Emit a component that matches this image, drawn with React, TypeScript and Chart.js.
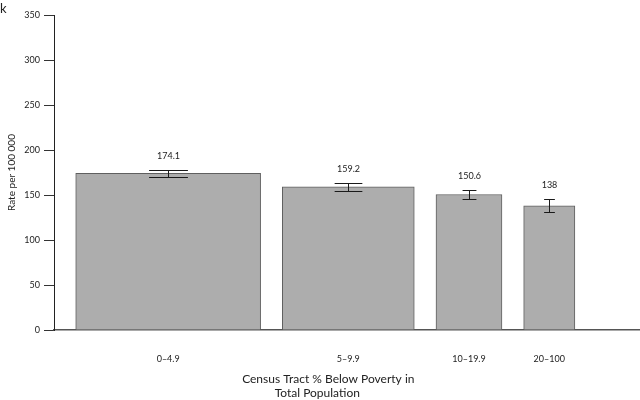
import React, { useEffect, useRef } from 'react';
import { Chart, registerables } from 'chart.js';

Chart.register(...registerables);

// ---- data ----
const categories = ['0–4.9', '5–9.9', '10–19.9', '20–100'];
const rates = [174.1, 159.2, 150.6, 138];
const ciLower = [170.2, 155.0, 145.1, 130.8];
const ciUpper = [178.0, 163.4, 156.1, 145.2];
// share of total population in each poverty category (drives bar width)
const populationShare = [42.6, 30.4, 15.2, 11.8];
const yMax = 350;
const yStep = 50;
const yTitle = 'Rate per 100 000';
const xTitleLines = ['Census Tract % Below Poverty in', 'Total Population'];
const cornerLabel = 'k';

// ---- layout of variable-width bars on a linear axis ----
const GAP = 5;
const X_MAX = 135;
const spans: [number, number][] = [];
let cursor = GAP;
populationShare.forEach((w) => {
  spans.push([cursor, cursor + w]);
  cursor += w + GAP;
});
const centers = spans.map(([a, b]) => (a + b) / 2);

const FONT = 'Lato, "Open Sans", sans-serif';
const TEXT = '#222';
const BAR_FILL = '#adadad';
const BAR_BORDER = '#5f5f5f';

const overlayPlugin = {
  id: 'overlay',
  afterDatasetsDraw(chart: any) {
    const { ctx } = chart;
    const xs = chart.scales.x;
    const ys = chart.scales.y;
    ctx.save();
    ctx.strokeStyle = '#1a1a1a';
    ctx.lineWidth = 1;
    ctx.fillStyle = TEXT;
    ctx.font = `9px ${FONT}`;
    ctx.textAlign = 'center';
    ctx.textBaseline = 'middle';
    rates.forEach((r, i) => {
      const cx = Math.round(xs.getPixelForValue(centers[i])) + 0.5;
      const w = xs.getPixelForValue(spans[i][1]) - xs.getPixelForValue(spans[i][0]);
      const half = (w * 0.21) / 2;
      const yl = Math.round(ys.getPixelForValue(ciLower[i])) + 0.5;
      const yh = Math.round(ys.getPixelForValue(ciUpper[i])) + 0.5;
      ctx.beginPath();
      ctx.moveTo(cx, yl);
      ctx.lineTo(cx, yh);
      ctx.moveTo(cx - half, yl);
      ctx.lineTo(cx + half, yl);
      ctx.moveTo(cx - half, yh);
      ctx.lineTo(cx + half, yh);
      ctx.stroke();
      ctx.fillText(String(r), cx, yh - 14);
    });
    ctx.restore();
  },
  afterDraw(chart: any) {
    const { ctx } = chart;
    const xs = chart.scales.x;
    const mid = (xs.getPixelForValue(spans[0][0]) + xs.getPixelForValue(spans[spans.length - 1][1])) / 2;
    ctx.save();
    ctx.fillStyle = TEXT;
    ctx.textAlign = 'center';
    ctx.textBaseline = 'middle';
    ctx.font = `12px ${FONT}`;
    ctx.fillText(xTitleLines[0], mid + 3, 379);
    ctx.fillText(xTitleLines[1], mid - 8, 393.5);
    ctx.textAlign = 'left';
    ctx.textBaseline = 'alphabetic';
    ctx.font = `13px ${FONT}`;
    ctx.fillText(cornerLabel, 0, 13);
    ctx.restore();
  },
};

export default function App() {
  const ref = useRef<HTMLCanvasElement | null>(null);

  useEffect(() => {
    if (!ref.current) return;
    Chart.defaults.font.family = FONT;
    const chart = new Chart(ref.current, {
      type: 'bar',
      data: {
        datasets: rates.map((r, i) => ({
          label: categories[i],
          data: [{ x: centers[i], y: r }],
          backgroundColor: BAR_FILL,
          borderColor: BAR_BORDER,
          borderWidth: 1,
          grouped: false,
          barThickness: 10,
        })) as any,
      },
      options: {
        animation: false,
        responsive: false,
        devicePixelRatio: 1,
        layout: { padding: { top: 15, left: 0, right: 0, bottom: 0 } },
        plugins: {
          legend: { display: false },
          tooltip: { enabled: false },
        },
        scales: {
          x: {
            type: 'linear',
            offset: false,
            min: 0,
            max: X_MAX,
            afterBuildTicks: (s: any) => {
              s.ticks = centers.map((v) => ({ value: v }));
            },
            afterFit: (s: any) => {
              s.height = 70;
            },
            ticks: {
              autoSkip: false,
              maxRotation: 0,
              padding: 16,
              color: TEXT,
              font: { size: 9 },
              callback: (_v: any, i: number) => categories[i],
            },
            grid: { display: false, offset: false },
            border: { display: true, color: '#555', width: 1.5 },
          },
          y: {
            min: 0,
            max: yMax,
            afterFit: (s: any) => {
              s.width = 54;
            },
            ticks: { stepSize: yStep, padding: 4, color: TEXT, font: { size: 9 } },
            grid: { drawOnChartArea: false, drawTicks: true, tickLength: 10, color: '#333' },
            border: { display: true, color: '#222', width: 1 },
            title: {
              display: true,
              text: yTitle,
              color: TEXT,
              font: { size: 10 },
              padding: { top: 6, bottom: 0 },
            },
          },
        },
      } as any,
      plugins: [overlayPlugin],
    });
    const xs = chart.scales.x;
    chart.data.datasets.forEach((ds: any, i: number) => {
      ds.barThickness = xs.getPixelForValue(spans[i][1]) - xs.getPixelForValue(spans[i][0]);
    });
    chart.update();
    return () => chart.destroy();
  }, []);

  return (
    <div style={{ position: 'fixed', left: 0, top: 0, width: 640, height: 400, background: '#fff' }}>
      <canvas ref={ref} width={640} height={400} />
    </div>
  );
}
